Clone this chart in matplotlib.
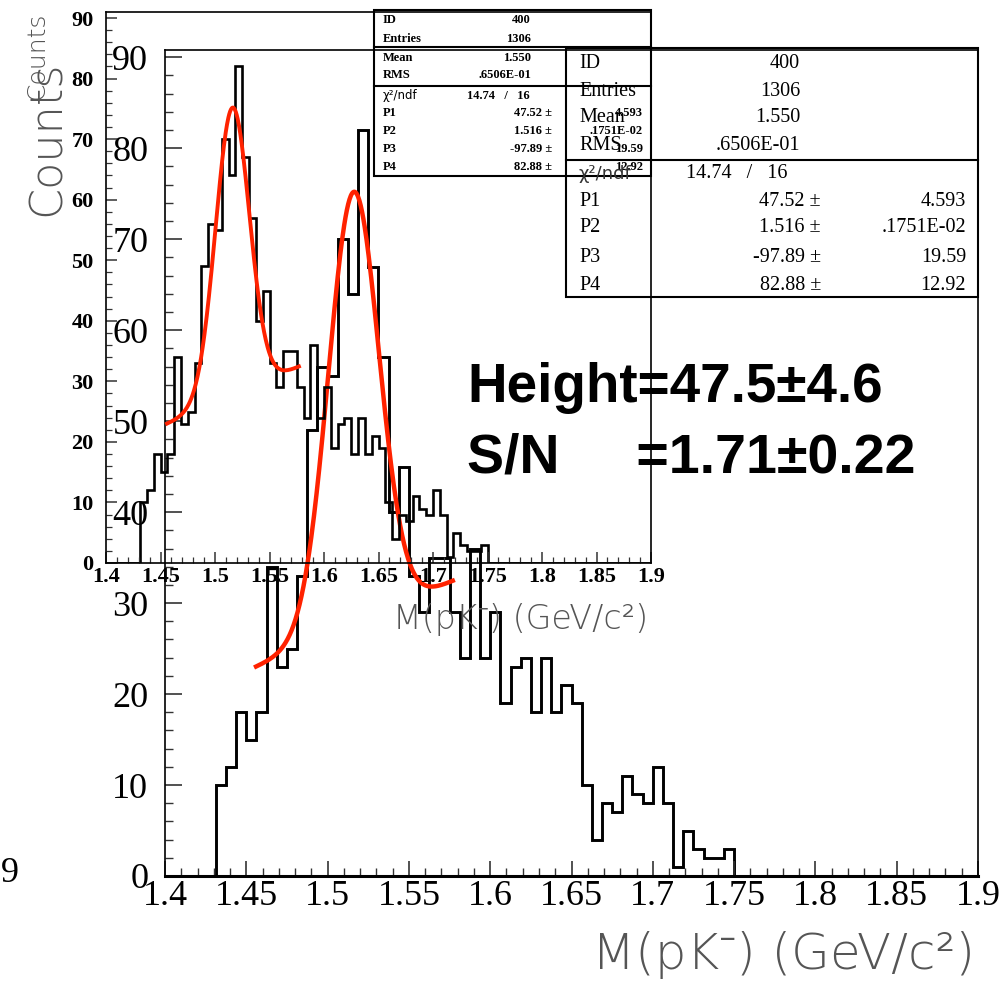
import numpy as np
import matplotlib.pyplot as plt
from matplotlib.patches import Rectangle
from matplotlib.ticker import MultipleLocator, FixedLocator, FixedFormatter

# histogram: 80 bins from 1.4 to 1.9, non-empty bins 5..55
edges = np.linspace(1.4, 1.9, 81)
first_bin = 5
counts_nz = [10, 12, 18, 15, 18, 34, 23, 25, 33, 49,
             56, 55, 70, 64, 82, 67, 57, 40, 45, 33,
             29, 35, 35, 29, 24, 36, 24, 29, 19, 23,
             24, 18, 24, 18, 21, 19, 10, 4, 8, 7,
             11, 9, 8, 12, 8, 1, 5, 3, 2, 2, 3]
counts = np.zeros(80)
counts[first_bin:first_bin + len(counts_nz)] = counts_nz

# fit (gaussian + linear background)
fit_height = 47.52
fit_mean = 1.516
fit_sigma = 0.0155
bg_at_lo = 23.0
bg_slope = 78.0
fit_lo, fit_hi = 1.456, 1.577

stat_names = ["ID", "Entries", "Mean", "RMS"]
stat_vals = ["400", "1306", "1.550", ".6506E-01"]
chi2_text = "14.74   /   16"
par_names = ["P1", "P2", "P3", "P4"]
par_vals = ["47.52 \u00b1", "1.516 \u00b1", "-97.89 \u00b1", "82.88 \u00b1"]
par_errs = ["4.593", ".1751E-02", "19.59", "12.92"]

xticks = [1.4, 1.45, 1.5, 1.55, 1.6, 1.65, 1.7, 1.75, 1.8, 1.85, 1.9]
xticklabels = ["1.4", "1.45", "1.5", "1.55", "1.6", "1.65", "1.7", "1.75", "1.8", "1.85", "1.9"]
yticks = [0, 10, 20, 30, 40, 50, 60, 70, 80, 90]

xlabel = "M(pK\u207b) (GeV/c\u00b2)"

fx = np.linspace(fit_lo, fit_hi, 300)
fy = fit_height * np.exp(-0.5 * ((fx - fit_mean) / fit_sigma) ** 2) + bg_at_lo + bg_slope * (fx - fit_lo)

W, H = 1003, 984
fig = plt.figure(figsize=(W / 100, H / 100), dpi=100)
red = "#ff2200"
thin = ["DejaVu Sans", "Noto Sans"]


def box(l, t, r, b):
    return [l / W, 1 - b / H, (r - l) / W, (b - t) / H]


# big plot
ax = fig.add_axes(box(165, 50, 978, 876))
ax.set_facecolor("none")
ax.stairs(counts, edges, color="black", lw=2.1)
ax.plot(fx, fy, color=red, lw=3.2)
ax.set_xlim(1.4, 1.9)
ax.set_ylim(0, 90.8)
ax.xaxis.set_major_locator(FixedLocator(xticks))
ax.xaxis.set_major_formatter(FixedFormatter(xticklabels))
ax.xaxis.set_minor_locator(MultipleLocator(0.01))
ax.set_yticks(yticks)
ax.yaxis.set_minor_locator(MultipleLocator(2))
ax.tick_params(axis="x", which="major", direction="in", length=11, width=1.2, color="#333", pad=3)
ax.tick_params(axis="x", which="minor", direction="in", length=6, width=1.0, color="#333")
ax.tick_params(axis="y", which="major", direction="in", length=12, width=1.2, color="#333", pad=12)
ax.tick_params(axis="y", which="minor", direction="in", length=6, width=1.0, color="#333")
for lab in ax.get_xticklabels() + ax.get_yticklabels():
    lab.set_family("Liberation Serif")
    lab.set_fontsize(26)
for s in ax.spines.values():
    s.set_linewidth(1.2)
ax.spines["bottom"].set_linewidth(2.2)

# small plot drawn over it
ax2 = fig.add_axes(box(106, 12, 651, 563))
ax2.set_facecolor("none")
ax2.stairs(counts, edges, color="black", lw=1.9)
ax2.plot(fx, fy, color=red, lw=2.8)
ax2.set_xlim(1.4, 1.9)
ax2.set_ylim(0, 91)
ax2.xaxis.set_major_locator(FixedLocator(xticks))
ax2.xaxis.set_major_formatter(FixedFormatter(xticklabels))
ax2.xaxis.set_minor_locator(MultipleLocator(0.01))
ax2.set_yticks(yticks)
ax2.yaxis.set_minor_locator(MultipleLocator(2))
ax2.tick_params(which="major", direction="in", length=8, width=1.1, color="#333", pad=3)
ax2.tick_params(which="minor", direction="in", length=4, width=0.9, color="#333")
ax2.tick_params(axis="y", pad=9)
for lab in ax2.get_xticklabels() + ax2.get_yticklabels():
    lab.set_family("Liberation Serif")
    lab.set_fontweight("bold")
    lab.set_fontsize(16)
for s in ax2.spines.values():
    s.set_linewidth(1.2)

# overlay in pixel coordinates for boxes and text
ov = fig.add_axes([0, 0, 1, 1])
ov.set_xlim(0, W)
ov.set_ylim(H, 0)
ov.axis("off")
ov.set_facecolor("none")

# small stats box
ov.add_patch(Rectangle((374, 10), 651 - 374, 176 - 10, fill=False, lw=1.5, color="black"))
ov.plot([374, 651], [47, 47], color="black", lw=1.5)
ov.plot([374, 651], [86, 86], color="black", lw=1.5)
sfont = dict(family="Liberation Serif", weight="bold", fontsize=9, va="center")
srows = [20, 39, 58, 75]
for name, val, yy in zip(stat_names, stat_vals, srows):
    ov.text(383, yy, name, ha="left", **sfont)
    ov.text(531, yy, val, ha="right", **sfont)
ov.text(383, 96, "\u03c7\u00b2/ndf", ha="left", va="center", family="DejaVu Sans", fontsize=8.5)
ov.text(530, 96, chi2_text, ha="right", **sfont)
prows = [113, 131, 149, 167]
for name, val, err, yy in zip(par_names, par_vals, par_errs, prows):
    ov.text(383, yy, name, ha="left", **sfont)
    ov.text(552, yy, val, ha="right", **sfont)
    ov.text(643, yy, err, ha="right", **sfont)

# big stats box
ov.add_patch(Rectangle((566, 48), 978 - 566, 297 - 48, fill=False, lw=1.5, color="black"))
ov.plot([566, 978], [160, 160], color="black", lw=1.5)
bfont = dict(family="Liberation Serif", fontsize=14.5, va="center")
brows = [64, 91, 118, 145]
for name, val, yy in zip(stat_names, stat_vals, brows):
    ov.text(579, yy, name, ha="left", **bfont)
    ov.text(800, yy, val, ha="right", **bfont)
ov.text(579, 174, "\u03c7\u00b2/ndf", ha="left", va="center", family="DejaVu Sans", fontsize=13, color="#333")
ov.text(788, 173, chi2_text, ha="right", **bfont)
prows_b = [201, 228, 257, 285]
for name, val, err, yy in zip(par_names, par_vals, par_errs, prows_b):
    ov.text(579, yy, name, ha="left", **bfont)
    ov.text(821, yy, val, ha="right", **bfont)
    ov.text(966, yy, err, ha="right", **bfont)

# fit result text
ov.text(467, 388, "Height=47.5\u00b14.6", ha="left", va="center",
        family="Liberation Sans", weight="bold", fontsize=39.5)
ov.text(467, 458, "S/N     =1.71\u00b10.22", ha="left", va="center",
        family="Liberation Sans", weight="bold", fontsize=40)

# axis titles
ov.text(975, 955, xlabel, ha="right", va="center", family=thin,
        weight="light", fontsize=36, color="#555")
ov.text(648, 620, xlabel, ha="right", va="center", family=thin,
        weight="light", fontsize=24, color="#555")
ov.text(47, 138, "Counts", ha="center", va="center", rotation=90, family=thin,
        weight="light", fontsize=32, color="#555")
ov.text(37, 55, "Counts", ha="center", va="center", rotation=90, family=thin,
        weight="light", fontsize=18, color="#555")
ov.text(1, 873, "9", ha="left", va="center", family="Liberation Serif", fontsize=26)

fig.savefig("out.png", dpi=100)
